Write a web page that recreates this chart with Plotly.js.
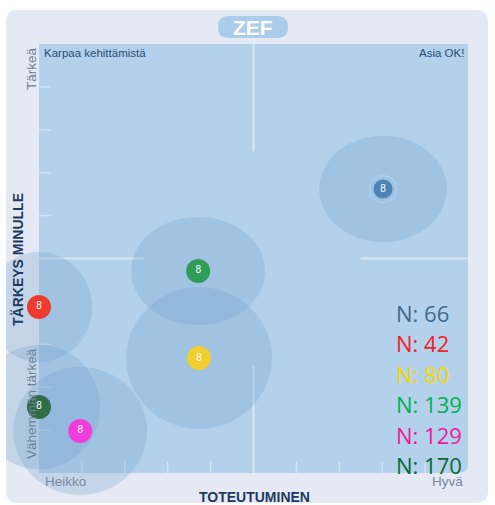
<!DOCTYPE html>
<html><head><meta charset="utf-8">
<script src="https://cdn.plot.ly/plotly-3.0.1.min.js"></script>
<style>html,body{margin:0;padding:0;background:#fff}#chart{width:495px;height:505px}</style>
</head><body><div id="chart"></div>
<script>
// ---- data ----
const nValues      = [66, 42, 80, 139, 129, 170];
const toteutuminen = [8.02, 0.00, 3.73, 3.71, 0.96, 0.00];
const tarkeys      = [6.62, 3.87, 2.68, 4.71, 0.98, 1.54];
const spreadX      = [1.49, 1.24, 1.70, 1.56, 1.56, 1.42];
const spreadY      = [1.24, 1.28, 1.65, 1.26, 1.49, 1.45];
const markerColors = ['#4d84b3', '#ee3b2f', '#f1cf2e', '#2f9c57', '#f03cdc', '#2f6d47'];
const labelColors  = ['#3c6b8f', '#ee2129', '#f5d700', '#00b050', '#ec1a98', '#0a6934'];
const markerGlyph  = ['8', '8', '8', '8', '8', '8'];
const xTicks = [1, 2, 3, 4, 6, 7, 8, 9];
const yTicks = [1, 2, 3, 4, 6, 7, 8, 9];
const quadrantLabels = ['Karpaa kehittämistä', 'Asia OK!'];
const yEndLabels = ['Tärkeä', 'Vähemmän tärkeä'];
const xEndLabels = ['Heikko', 'Hyvä'];
const yTitle = 'TÄRKEYS MINULLE';
const xTitle = 'TOTEUTUMINEN';
const brand = 'ZEF';

// ---- geometry helpers (pixel -> paper) ----
const W = 495, H = 505;
const PX = p => p / W, PY = p => 1 - p / H;
function roundRectPaper(x0, y0, x1, y1, r) {
  const p = (x, y) => PX(x) + ',' + PY(y);
  return 'M' + p(x0 + r, y0) + ' L' + p(x1 - r, y0) + ' Q' + p(x1, y0) + ' ' + p(x1, y0 + r) +
    ' L' + p(x1, y1 - r) + ' Q' + p(x1, y1) + ' ' + p(x1 - r, y1) +
    ' L' + p(x0 + r, y1) + ' Q' + p(x0, y1) + ' ' + p(x0, y1 - r) +
    ' L' + p(x0, y0 + r) + ' Q' + p(x0, y0) + ' ' + p(x0 + r, y0) + ' Z';
}

const lineCol = 'rgba(228,240,250,0.75)';
const tickCol = 'rgba(228,240,250,0.6)';
const shapes = [];
// outer panel
shapes.push({type: 'path', xref: 'paper', yref: 'paper', layer: 'below',
  path: roundRectPaper(6, 10, 488, 503, 12), fillcolor: '#e4e9f3', line: {width: 0}});
// ZEF pill
shapes.push({type: 'path', xref: 'paper', yref: 'paper', layer: 'below',
  path: roundRectPaper(218, 16, 288, 38, 11), fillcolor: '#accdea', line: {width: 0}});
// plot area (0..10 both axes) with rounded bottom-right corner
shapes.push({type: 'path', xref: 'x', yref: 'y', layer: 'below',
  path: 'M0,0 L9.78,0 Q10,0 10,0.22 L10,10 L0,10 Z', fillcolor: '#b3d1ea', line: {width: 0}});
// crosshair segments
shapes.push({type: 'line', xref: 'x', yref: 'y', layer: 'below', x0: 5, x1: 5, y0: 7.5, y1: 10.15, line: {color: lineCol, width: 2}});
shapes.push({type: 'line', xref: 'x', yref: 'y', layer: 'below', x0: 5, x1: 5, y0: 0, y1: 2.5, line: {color: lineCol, width: 2}});
shapes.push({type: 'line', xref: 'x', yref: 'y', layer: 'below', x0: 0, x1: 2.45, y0: 5, y1: 5, line: {color: lineCol, width: 2}});
shapes.push({type: 'line', xref: 'x', yref: 'y', layer: 'below', x0: 7.5, x1: 10, y0: 5, y1: 5, line: {color: lineCol, width: 2}});
// ticks
xTicks.forEach(t => shapes.push({type: 'line', xref: 'x', yref: 'y', layer: 'below', x0: t, x1: t, y0: 0, y1: 0.26, line: {color: tickCol, width: 1.5}}));
yTicks.forEach(t => shapes.push({type: 'line', xref: 'x', yref: 'y', layer: 'below', x0: 0, x1: 0.28, y0: t, y1: t, line: {color: tickCol, width: 1.5}}));
// spread halos
toteutuminen.forEach((x, i) => shapes.push({type: 'circle', xref: 'x', yref: 'y', layer: 'below',
  x0: x - spreadX[i], x1: x + spreadX[i], y0: tarkeys[i] - spreadY[i], y1: tarkeys[i] + spreadY[i],
  fillcolor: 'rgba(112,158,203,0.27)', line: {width: 0}}));

const annotations = [];
const ann = (o) => annotations.push(Object.assign({xref: 'paper', yref: 'paper', showarrow: false}, o));
const F = 'Liberation Sans, Arial';
ann({x: PX(253), y: PY(27), text: '<b>' + brand + '</b>', font: {family: F, size: 21, color: '#ffffff'}, xanchor: 'center', yanchor: 'middle'});
ann({x: PX(42), y: PY(53), text: quadrantLabels[0], font: {family: F, size: 11.5, color: '#2a4d78'}, xanchor: 'left', yanchor: 'middle'});
ann({x: PX(466), y: PY(53), text: quadrantLabels[1], font: {family: F, size: 11.5, color: '#2a4d78'}, xanchor: 'right', yanchor: 'middle'});
ann({x: PX(31), y: PY(69), text: yEndLabels[0], textangle: -90, font: {family: F, size: 13.5, color: '#6e8096'}, xanchor: 'center', yanchor: 'middle'});
ann({x: PX(31), y: PY(404), text: yEndLabels[1], textangle: -90, font: {family: F, size: 13.5, color: '#6e8096'}, xanchor: 'center', yanchor: 'middle'});
ann({x: PX(18), y: PY(260), text: '<b>' + yTitle + '</b>', textangle: -90, font: {family: F, size: 14, color: '#1f3a60'}, xanchor: 'center', yanchor: 'middle'});
ann({x: PX(65), y: PY(481), text: xEndLabels[0], font: {family: F, size: 13.5, color: '#7a8a9e'}, xanchor: 'center', yanchor: 'middle'});
ann({x: PX(447), y: PY(481), text: xEndLabels[1], font: {family: F, size: 13.5, color: '#7a8a9e'}, xanchor: 'center', yanchor: 'middle'});
ann({x: PX(254), y: PY(497), text: '<b>' + xTitle + '</b>', font: {family: F, size: 14, color: '#1f3a60'}, xanchor: 'center', yanchor: 'middle'});
// N legend
const legendY = [313, 343, 374, 404, 435, 465];
nValues.forEach((n, i) => ann({x: PX(394), y: PY(legendY[i]), text: 'N: ' + n,
  font: {family: 'Open Sans, Noto Sans', size: 22, color: labelColors[i]}, xanchor: 'left', yanchor: 'middle'}));

const trace = {
  type: 'scatter', mode: 'markers+text', x: toteutuminen, y: tarkeys,
  text: markerGlyph, textposition: 'middle center',
  textfont: {family: F, size: 10, color: '#ffffff'},
  marker: {size: 24, color: markerColors,
    line: {width: [5, 0, 0, 0, 0, 0], color: ['rgba(168,204,234,0.85)', 'rgba(0,0,0,0)', 'rgba(0,0,0,0)', 'rgba(0,0,0,0)', 'rgba(0,0,0,0)', 'rgba(0,0,0,0)']}},
  cliponaxis: false, hoverinfo: 'skip'
};

const axisCommon = {showgrid: false, zeroline: false, showticklabels: false, ticks: '', showline: false, fixedrange: true};
const layout = {
  width: W, height: H, margin: {l: 0, r: 0, t: 0, b: 0, pad: 0},
  paper_bgcolor: '#ffffff', plot_bgcolor: 'rgba(0,0,0,0)',
  xaxis: Object.assign({domain: [6 / W, 488 / W], range: [(6 - 39) / 42.9, (488 - 39) / 42.9]}, axisCommon),
  yaxis: Object.assign({domain: [1 - 503 / H, 1 - 10 / H], range: [(473 - 503) / 42.9, (473 - 10) / 42.9]}, axisCommon),
  shapes: shapes, annotations: annotations, showlegend: false, hovermode: false
};
Plotly.newPlot('chart', [trace], layout, {displayModeBar: false, staticPlot: true});
</script></body></html>
